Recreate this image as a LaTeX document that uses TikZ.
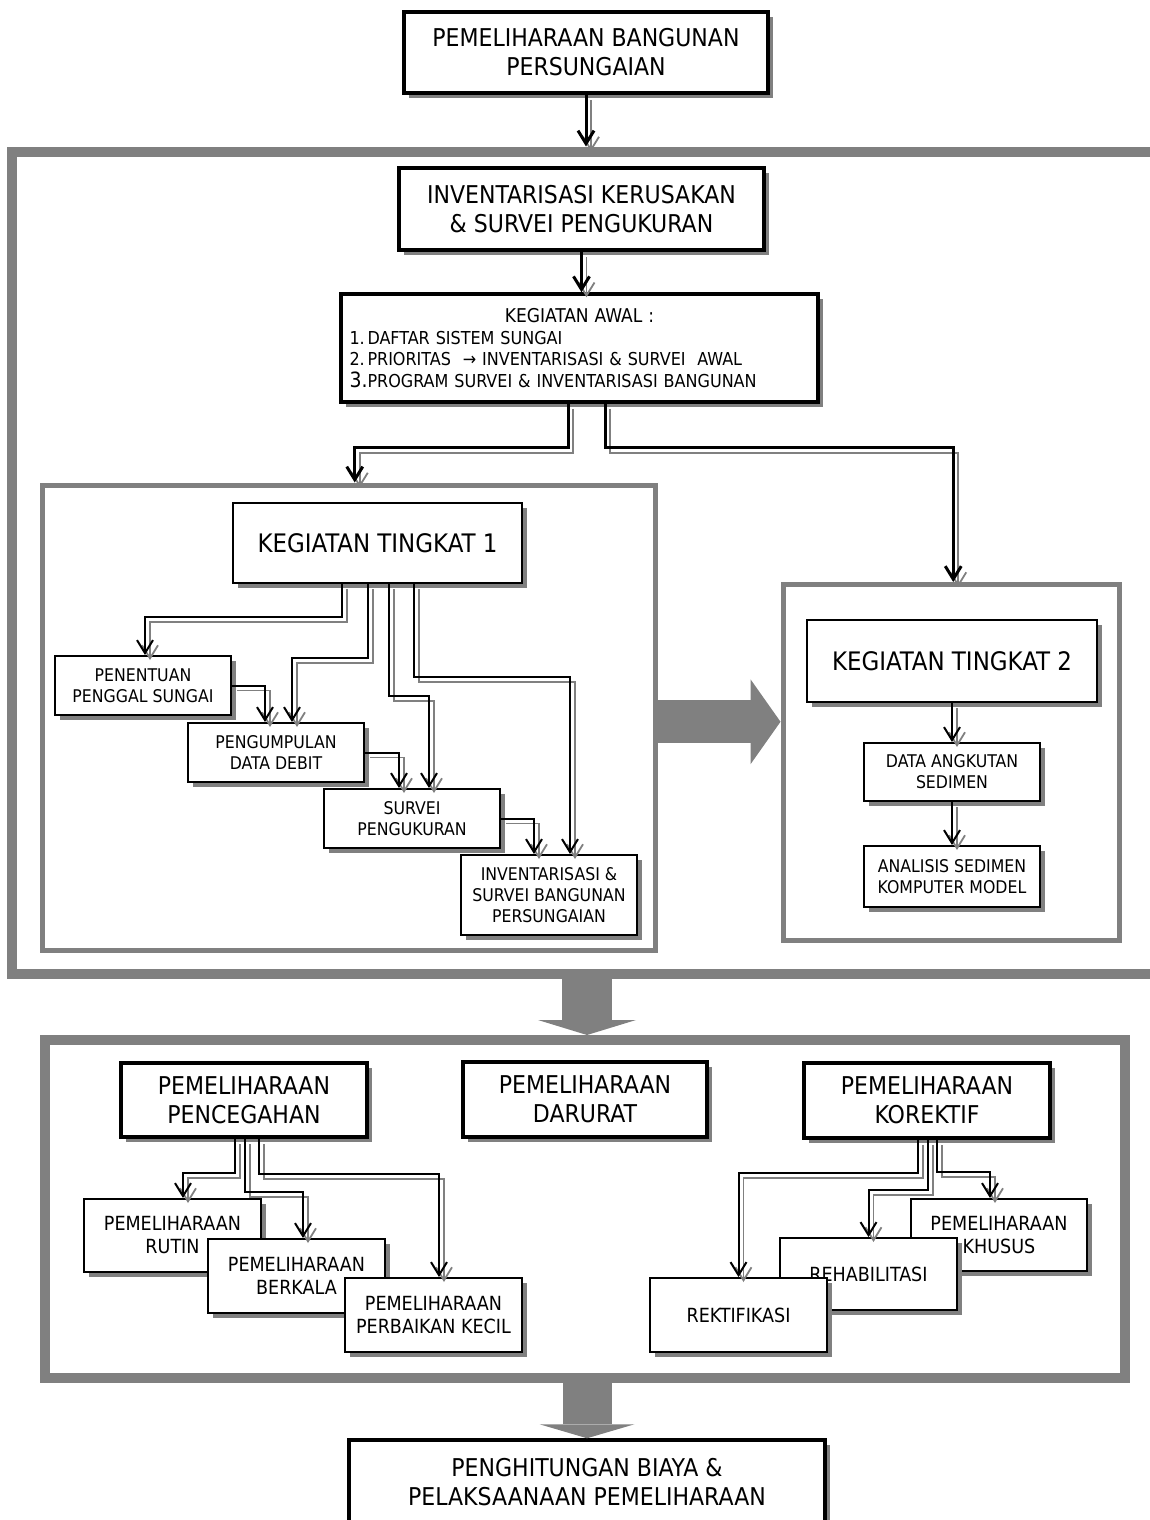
\documentclass[tikz,border=0pt]{standalone}
\usepackage{fontspec}
\setmainfont{DejaVu Sans Condensed}
\usetikzlibrary{arrows.meta,calc,positioning,shadows}
\definecolor{shadegray}{RGB}{128,128,128}

\begin{document}
\begin{tikzpicture}[x=1pt,y=-1pt,
    box/.style={draw,fill=white,align=center,inner sep=0pt,line width=2pt,
      drop shadow={shadow xshift=5pt,shadow yshift=-5pt,fill=shadegray,opacity=1}},
    heavybox/.style={box,line width=4pt},
    bigtxt/.style={font=\fontsize{24.5}{29}\selectfont},
    kttxt/.style={font=\fontsize{25.5}{30}\selectfont},
    smalltxt/.style={font=\fontsize{17.5}{21}\selectfont},
    subtxt/.style={font=\fontsize{19.5}{23}\selectfont},
    frame/.style={draw=shadegray,inner sep=0pt},
    conn/.style={line width=2pt,-{Straight Barb[length=13pt,width=16pt]},
      preaction={draw=shadegray,line width=1.8pt,transform canvas={xshift=5pt,yshift=-5pt}}},
    heavyconn/.style={conn,line width=3pt},
    flow/.style={draw=shadegray,line width=#1}]
  \useasboundingbox (0,0) rectangle (1150,1520);
  \node[frame,line width=10pt,minimum width=1143,minimum height=822] (survey) at (583.5,562.5) {};
  \node[frame,line width=5pt,minimum width=612.5,minimum height=465.5] (lvl1) at (348.75,717.75) {};
  \node[frame,line width=5pt,minimum width=336.5,minimum height=355.5] (lvl2) at (951.25,762.25) {};
  \node[frame,line width=10pt,minimum width=1080,minimum height=338] (maint) at (585,1209) {};

  \node[heavybox,bigtxt,minimum width=364,minimum height=81] (top) at (586,52.5) {PEMELIHARAAN BANGUNAN\\PERSUNGAIAN};
  \node[heavybox,bigtxt,minimum width=365,minimum height=82] (inv) at (581.5,209) {INVENTARISASI KERUSAKAN\\\& SURVEI PENGUKURAN};
  \node[box,line width=3.5pt,minimum width=477,minimum height=108,text width=460,align=left,
    font=\fontsize{17.8}{21.5}\selectfont] (awal) at (579.5,348)
    {\makebox[460pt][c]{\fontsize{19}{21.5}\selectfont KEGIATAN AWAL :}\\
     \makebox[18pt][l]{1.}DAFTAR SISTEM SUNGAI\\
     \makebox[18pt][l]{2.}PRIORITAS \ → INVENTARISASI \& SURVEI \ AWAL\\
     \makebox[18pt][l]{\fontsize{21}{21.5}\selectfont 3.}PROGRAM SURVEI \& INVENTARISASI BANGUNAN};

  \node[box,kttxt,minimum width=289,minimum height=80] (kt1) at (377.5,543) {KEGIATAN TINGKAT 1};
  \node[box,smalltxt,minimum width=176,minimum height=59] (pen) at (143,685.5) {PENENTUAN\\PENGGAL SUNGAI};
  \node[box,smalltxt,minimum width=176,minimum height=59] (pdd) at (276,752.5) {PENGUMPULAN\\DATA DEBIT};
  \node[box,smalltxt,minimum width=176,minimum height=59] (spk) at (412,818.5) {SURVEI\\PENGUKURAN};
  \node[box,smalltxt,minimum width=176,minimum height=80] (isb) at (549,895) {INVENTARISASI \&\\SURVEI BANGUNAN\\PERSUNGAIAN};

  \node[box,kttxt,minimum width=290,minimum height=82] (kt2) at (952,661) {KEGIATAN TINGKAT 2};
  \node[box,smalltxt,minimum width=176,minimum height=58] (das) at (952,772) {DATA ANGKUTAN\\SEDIMEN};
  \node[box,smalltxt,minimum width=176,minimum height=61] (ask) at (952,876.5) {ANALISIS SEDIMEN\\KOMPUTER MODEL};

  \node[heavybox,bigtxt,minimum width=246,minimum height=74] (pcg) at (244,1100) {PEMELIHARAAN\\PENCEGAHAN};
  \node[heavybox,bigtxt,minimum width=244,minimum height=75] (dar) at (585,1099.5) {PEMELIHARAAN\\DARURAT};
  \node[heavybox,bigtxt,minimum width=246,minimum height=75] (kor) at (927,1100.5) {PEMELIHARAAN\\KOREKTIF};

  \node[box,subtxt,minimum width=177,minimum height=73] (rutin) at (172.5,1235.5) {PEMELIHARAAN\\RUTIN};
  \node[box,subtxt,minimum width=177,minimum height=74] (berkala) at (296.5,1276) {PEMELIHARAAN\\BERKALA};
  \node[box,subtxt,minimum width=177,minimum height=74] (kecil) at (433.5,1315) {PEMELIHARAAN\\PERBAIKAN KECIL};

  \node[box,subtxt,minimum width=176,minimum height=72] (khusus) at (999,1235) {PEMELIHARAAN\\KHUSUS};
  \node[box,subtxt,minimum width=177,minimum height=72] (rehab) at (868.5,1274) {REHABILITASI};
  \node[box,subtxt,minimum width=177,minimum height=74] (rekti) at (738.5,1315) {REKTIFIKASI};

  \node[box,bigtxt,line width=3.5pt,minimum width=476,minimum height=84] (cost) at (587,1482) {PENGHITUNGAN BIAYA \&\\PELAKSAANAAN PEMELIHARAAN};

  \draw[heavyconn] (top.south) -- (top.south |- survey.north);
  \draw[heavyconn] (inv.south) -- (inv.south |- awal.north);
  \draw[heavyconn] ([xshift=-11.5]awal.south) -- ++(0,44) -| ([xshift=6]lvl1.north);
  \draw[heavyconn] ([xshift=25.5]awal.south) -- ++(0,44) -| ([xshift=2]lvl2.north);

  \draw[conn] ([xshift=-35.5]kt1.south) -- ++(0,33) -| ([xshift=2]pen.north);
  \draw[conn] ([xshift=-9.5]kt1.south) -- ++(0,74) -| ([xshift=16]pdd.north);
  \draw[conn] ([xshift=11.5]kt1.south) -- ++(0,112) -| ([xshift=17]spk.north);
  \draw[conn] ([xshift=36.5]kt1.south) -- ++(0,93) -| ([xshift=21]isb.north);
  \draw[conn] (pen.east) -| ([xshift=-11]pdd.north);
  \draw[conn] (pdd.east) -| ([xshift=-13]spk.north);
  \draw[conn] (spk.east) -| ([xshift=-15]isb.north);

  \draw[conn] (kt2.south) -- (das.north);
  \draw[conn] (das.south) -- (ask.north);

  \draw[conn] ([xshift=-9]pcg.south) -- ++(0,34) -| ([xshift=10.5]rutin.north);
  \draw[conn] ([xshift=1]pcg.south) -- ++(0,53) -| ([xshift=6.5]berkala.north);
  \draw[conn] ([xshift=15]pcg.south) -- ++(0,35) -| ([xshift=5.5]kecil.north);

  \draw[conn] ([xshift=-9]kor.south) -- ++(0,33) -| (rekti.north);
  \draw[conn] ([xshift=1]kor.south) -- ++(0,50) -| (rehab.north);
  \draw[conn] ([xshift=10]kor.south) -- ++(0,32) -| ([xshift=-9]khusus.north);

  \draw[flow=43pt,-{Triangle[length=30pt,width=85pt,line width=0pt]}] ([yshift=-4]lvl1.east) -- ([yshift=-4]lvl1.east -| lvl2.west);
  \draw[flow=50pt,-{Triangle[length=15pt,width=98pt,line width=0pt]}] ([xshift=3.5]survey.south) -- ([xshift=3.5]survey.south |- maint.north);
  \draw[flow=49pt,-{Triangle[length=14pt,width=95pt,line width=0pt]}] ([xshift=2]maint.south) -- ([xshift=2]maint.south |- cost.north);
\end{tikzpicture}
\end{document}
